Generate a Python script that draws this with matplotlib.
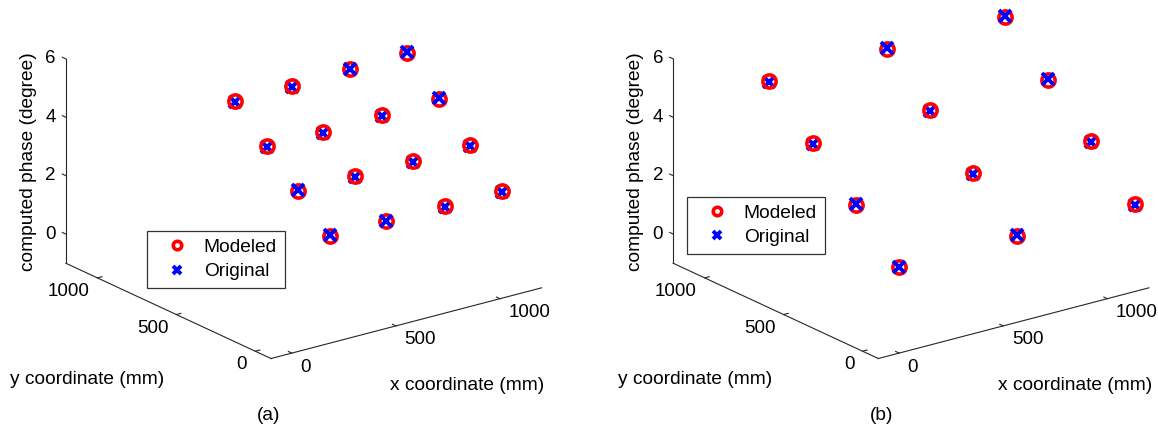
import numpy as np
import matplotlib
matplotlib.use("Agg")
import matplotlib.pyplot as plt
from matplotlib.transforms import offset_copy
from mpl_toolkits.mplot3d import proj3d

plt.rcParams['font.family'] = ['Liberation Sans', 'DejaVu Sans']

W, H = 1158, 430
FS = 13.8
TFS = 13.5
RED = '#ff0000'
BLUE = '#0000ff'
AXC = '#262626'

# ---------------- data ----------------
x_a = [258, 530, 810, 1085]
y_a = [0, 200, 400, 600]
phase_modeled_a = [[2.27, 2.27, 2.28, 2.29],
                   [3.32, 3.31, 3.33, 3.34],
                   [4.36, 4.34, 4.39, 4.42],
                   [5.40, 5.41, 5.45, 5.49]]
phase_original_a = [[2.30, 2.30, 2.25, 2.26],
                    [3.35, 3.28, 3.30, 3.31],
                    [4.33, 4.31, 4.36, 4.45],
                    [5.37, 5.38, 5.48, 5.52]]

x_b = [13, 579, 1146]
y_b = [-80, 193, 466, 739]
phase_modeled_b = [[1.86, 1.88, 1.92],
                   [3.31, 3.36, 3.38],
                   [4.76, 4.83, 4.81],
                   [6.20, 6.22, 6.28]]
phase_original_b = [[1.89, 1.91, 1.89],
                    [3.34, 3.33, 3.35],
                    [4.73, 4.80, 4.84],
                    [6.17, 6.25, 6.31]]

x_ticks = [0, 500, 1000]
y_ticks = [0, 500, 1000]
z_ticks = [0, 2, 4, 6]
x_lim = (-100, 1200)
y_lim = (-100, 1200)
z_lim = (-1, 6)
legend_labels = ['Modeled', 'Original']
x_label = 'x coordinate (mm)'
y_label = 'y coordinate (mm)'
z_label = 'computed phase (degree)'
captions = ['(a)', '(b)']

# ---------------- layout ----------------
VIEW0 = (20.4, -127.4, 1.014, 0.646)   # elev, azim, box y/x, box z/x (start guess)
PANEL_DX = 607.3
# where selected 3D points should land (image pixels, panel a)
anchors_3d = [(0, -100, -1), (500, -100, -1), (1000, -100, -1),
              (-100, 0, -1), (-100, 500, -1), (-100, 1000, -1),
              (-100, 1200, 0), (-100, 1200, 2), (-100, 1200, 4), (-100, 1200, 6),
              (-100, -100, -1)]
anchors_px = [(295.4, 352.5), (397.0, 326.7), (499.1, 298.3),
              (252.0, 351.3), (174.5, 314.6), (94.5, 279.6),
              (66.7, 232.7), (66.7, 175.0), (66.7, 117.3), (66.7, 59.3),
              (271.7, 358.3)]

fig = plt.figure(figsize=(W / 100, H / 100), dpi=100)
fig.patch.set_facecolor('white')


def proj2d(ax, pts):
    pts = np.asarray(pts, float)
    px, py, _ = proj3d.proj_transform(pts[:, 0], pts[:, 1], pts[:, 2], ax.get_proj())
    return np.column_stack([px, py])


def nelder_mead(f, x0, step, iters=400):
    n = len(x0)
    pts = [np.array(x0, float)]
    for i in range(n):
        p = np.array(x0, float)
        p[i] += step[i]
        pts.append(p)
    vals = [f(p) for p in pts]
    for _ in range(iters):
        order = np.argsort(vals)
        pts = [pts[i] for i in order]
        vals = [vals[i] for i in order]
        c = np.mean(pts[:-1], axis=0)
        xr = c + (c - pts[-1])
        fr = f(xr)
        if fr < vals[0]:
            xe = c + 2 * (c - pts[-1])
            fe = f(xe)
            if fe < fr:
                pts[-1], vals[-1] = xe, fe
            else:
                pts[-1], vals[-1] = xr, fr
        elif fr < vals[-2]:
            pts[-1], vals[-1] = xr, fr
        else:
            xc = c + 0.5 * (pts[-1] - c)
            fc = f(xc)
            if fc < vals[-1]:
                pts[-1], vals[-1] = xc, fc
            else:
                for i in range(1, n + 1):
                    pts[i] = pts[0] + 0.5 * (pts[i] - pts[0])
                    vals[i] = f(pts[i])
    return pts[int(np.argmin(vals))]


def set_view(ax, p):
    ax.view_init(elev=p[0], azim=p[1])
    ax.set_box_aspect((1.0, p[2], p[3]))


def fit_position(ax, T):
    for _ in range(2):
        fig.canvas.draw()
        P = ax.transData.transform(proj2d(ax, anchors_3d))
        bb = ax.get_position().transformed(fig.transFigure)
        c = np.array([(bb.x0 + bb.x1) / 2, (bb.y0 + bb.y1) / 2])
        side = bb.width
        Pm, Tm = P.mean(0), T.mean(0)
        f = ((P - Pm) * (T - Tm)).sum() / ((P - Pm) ** 2).sum()
        nc = Tm - f * (Pm - c)
        ns = side * f
        ax.set_position([(nc[0] - ns / 2) / W, (nc[1] - ns / 2) / H, ns / W, ns / H])


def calibrate(ax, du):
    T = np.array([(u + du, H - v) for u, v in anchors_px])
    set_view(ax, VIEW0)
    fig.canvas.draw()
    A = ax.transData.transform([[0.0, 0.0], [1.0, 1.0]])
    r = (A[1, 1] - A[0, 1]) / (A[1, 0] - A[0, 0])

    def cost(p):
        set_view(ax, p)
        Q = proj2d(ax, anchors_3d) * np.array([1.0, r])
        Qm, Tm = Q.mean(0), T.mean(0)
        s = ((Q - Qm) * (T - Tm)).sum() / ((Q - Qm) ** 2).sum()
        R = s * (Q - Qm) + Tm - T
        return float((R ** 2).sum())

    best = nelder_mead(cost, VIEW0, [2.0, 3.0, 0.05, 0.05])
    set_view(ax, best)
    fit_position(ax, T)


def tick_label(ax, xyz, s, dx, dy, ha):
    (px, py), = proj2d(ax, [xyz])
    ax.text2D(px, py, s, fontsize=TFS, ha=ha, va='center',
              transform=offset_copy(ax.transData, fig=fig, x=dx, y=dy, units='dots'))


def panel(du, xs, ys, zm, zo, legend_xy):
    ax = fig.add_axes([(du + 20) / W, 0.05, 400 / W, 400 / H], projection='3d',
                      proj_type='ortho')
    ax.set_axis_off()
    ax.patch.set_visible(False)
    ax.computed_zorder = False
    set_view(ax, VIEW0)
    ax.set_xticks([])
    ax.set_yticks([])
    ax.set_zticks([])

    x0, x1 = x_lim
    y0, y1 = y_lim
    z0, z1 = z_lim
    lkw = dict(color=AXC, lw=0.8, zorder=1, clip_on=False)
    ax.plot([x0, x1], [y0, y0], [z0, z0], **lkw)
    ax.plot([x0, x0], [y0, y1], [z0, z0], **lkw)
    ax.plot([x0, x0], [y1, y1], [z0, z1], **lkw)
    tl = 22
    for t in x_ticks:
        ax.plot([t, t], [y0, y0 + tl], [z0, z0], **lkw)
    for t in y_ticks:
        ax.plot([x0, x0 + tl], [t, t], [z0, z0], **lkw)
    for t in z_ticks:
        ax.plot([x0, x0], [y1, y1 + tl], [t, t], **lkw)

    h_o = h_x = None
    for i, yv in enumerate(ys):
        for j, xv in enumerate(xs):
            lo, = ax.plot([xv], [yv], [zm[i][j]], ls='none', marker='o', ms=9.5, mew=2.6,
                          mec=RED, mfc='none', zorder=4, clip_on=False)
            top = zo[i][j] > zm[i][j]
            lx, = ax.plot([xv], [yv], [zo[i][j]], ls='none', marker='x', ms=8, mew=2.8,
                          color=BLUE, zorder=5 if top else 3, clip_on=False)
            if h_o is None:
                h_o, h_x = lo, lx

    ax.set_xlim(*x_lim)
    ax.set_ylim(*y_lim)
    ax.set_zlim(*z_lim)

    calibrate(ax, du)

    for t in x_ticks:
        tick_label(ax, (t, y0, z0), f'{t}', 8.5, -14.0, 'left')
    for t in y_ticks:
        tick_label(ax, (x0, t, z0), f'{t}', -8.0, -13.5, 'right')
    for t in z_ticks:
        tick_label(ax, (x0, y1, t), f'{t}', -10.0, 0.0, 'right')

    leg = ax.legend([h_o, h_x], legend_labels, loc='upper left',
                    bbox_to_anchor=(legend_xy[0] / W, 1 - legend_xy[1] / H),
                    bbox_transform=fig.transFigure, borderaxespad=0, frameon=True,
                    fancybox=False, shadow=False, fontsize=FS, markerscale=0.64,
                    handlelength=2.3, handletextpad=0.25, borderpad=0.4,
                    labelspacing=0.35, numpoints=1)
    leg.get_frame().set_edgecolor('#333333')
    leg.get_frame().set_linewidth(0.9)
    leg.get_frame().set_alpha(1)

    fig.text((28.3 + du) / W, 1 - 161.7 / H, z_label, rotation=90, fontsize=FS,
             ha='center', va='center')
    fig.text((87.5 + du) / W, 1 - 380 / H, y_label, fontsize=FS, ha='center', va='center')
    fig.text((467.5 + du) / W, 1 - 385 / H, x_label, fontsize=FS, ha='center', va='center')
    return ax


ax_a = panel(0, x_a, y_a, phase_modeled_a, phase_original_a, (147.3, 231.0))
ax_b = panel(PANEL_DX, x_b, y_b, phase_modeled_b, phase_original_b, (687.2, 196.7))
fig.text(269 / W, 1 - 416 / H, captions[0], fontsize=FS, ha='center', va='center')
fig.text(882 / W, 1 - 415 / H, captions[1], fontsize=FS, ha='center', va='center')

fig.savefig('out.png', dpi=100, facecolor='white')
